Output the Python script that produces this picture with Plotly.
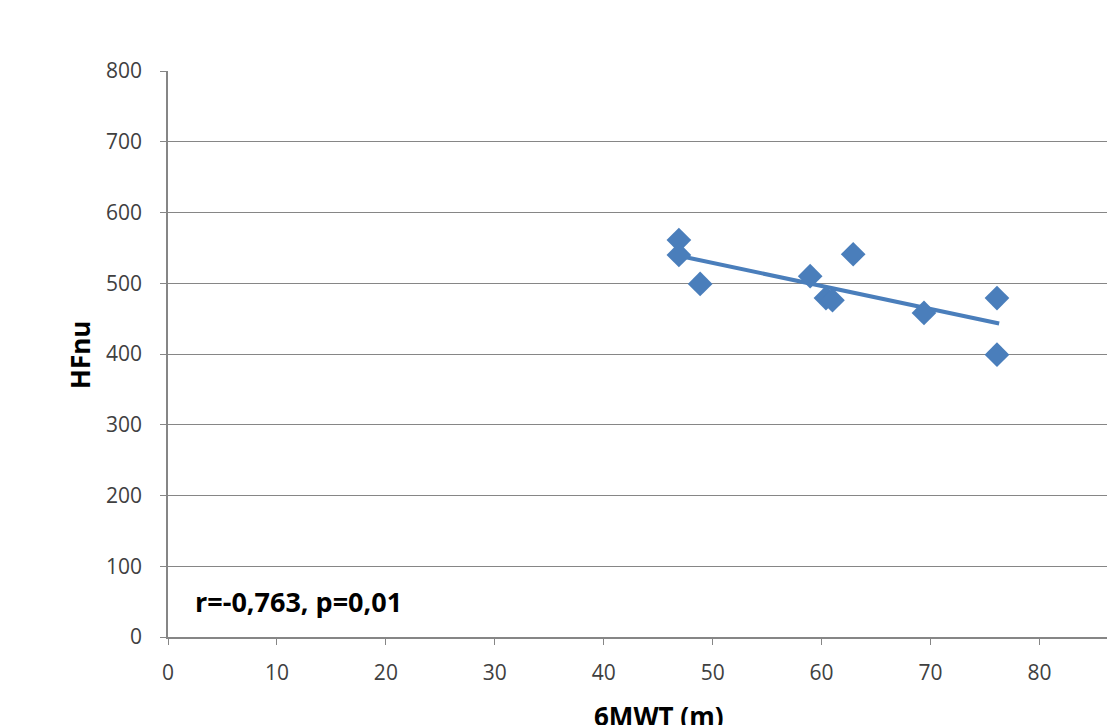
import plotly.graph_objects as go

# Data
walk_m = [46.9, 46.9, 48.85, 58.95, 60.4, 61.0, 62.9, 69.4, 76.1, 76.1]
hfnu = [561, 540, 499, 510, 479, 476, 541, 458, 479, 399]
trend_x = [47.0, 76.3]
trend_y = [538.5, 443.0]
x_ticks = [0, 10, 20, 30, 40, 50, 60, 70, 80]
y_ticks = [0, 100, 200, 300, 400, 500, 600, 700, 800]

blue = "#4A7EBB"
grid = "#868686"
font_family = "Open Sans, Liberation Sans, sans-serif"

W, H = 1107, 725
L, R, T, B = 168, 0, 71, 88

fig = go.Figure()
fig.add_trace(go.Scatter(
    x=trend_x, y=trend_y, mode="lines",
    line=dict(color=blue, width=4), showlegend=False, hoverinfo="skip"))
fig.add_trace(go.Scatter(
    x=walk_m, y=hfnu, mode="markers",
    marker=dict(symbol="diamond", size=19, color=blue, line=dict(width=0)),
    showlegend=False))

pw = W - L - R
ph = H - T - B

fig.update_layout(
    width=W, height=H,
    margin=dict(l=L, r=R, t=T, b=B),
    paper_bgcolor="white", plot_bgcolor="white",
    font=dict(family=font_family, size=22, color="#404040"),
    xaxis=dict(range=[0, 86.2], tickvals=x_ticks, showgrid=False,
               showline=True, linecolor=grid, linewidth=1.5,
               ticks="outside", ticklen=6, tickcolor=grid,
               zeroline=False, ticklabelstandoff=10,
               tickfont=dict(size=21)),
    yaxis=dict(range=[0, 800], tickvals=y_ticks, showgrid=True,
               gridcolor=grid, gridwidth=1, showline=True,
               linecolor=grid, linewidth=1.5, ticks="outside",
               ticklen=6, tickcolor=grid, zeroline=False,
               ticklabelstandoff=14, tickfont=dict(size=21)),
    annotations=[
        dict(text="<b>r=-0,763, p=0,01</b>", x=(193 - L) / pw, y=50,
             xref="paper", yref="y", xanchor="left", yanchor="middle",
             showarrow=False,
             font=dict(size=27, color="#000000", family=font_family)),
        dict(text="<b>HFnu</b>", x=(80 - L) / pw, y=(637 - 355) / ph,
             xref="paper", yref="paper", xanchor="center",
             yanchor="middle", showarrow=False, textangle=-90,
             font=dict(size=26, color="#000000", family=font_family)),
        dict(text="<b>6MWT (m)</b>", x=45, y=(637 - 716) / ph, xref="x",
             yref="paper", xanchor="center", yanchor="middle",
             showarrow=False,
             font=dict(size=26, color="#000000", family=font_family)),
    ],
)

fig.write_html("out.html", config={"displayModeBar": False},
               post_script="document.body.style.margin='0';document.body.style.overflow='hidden';")
